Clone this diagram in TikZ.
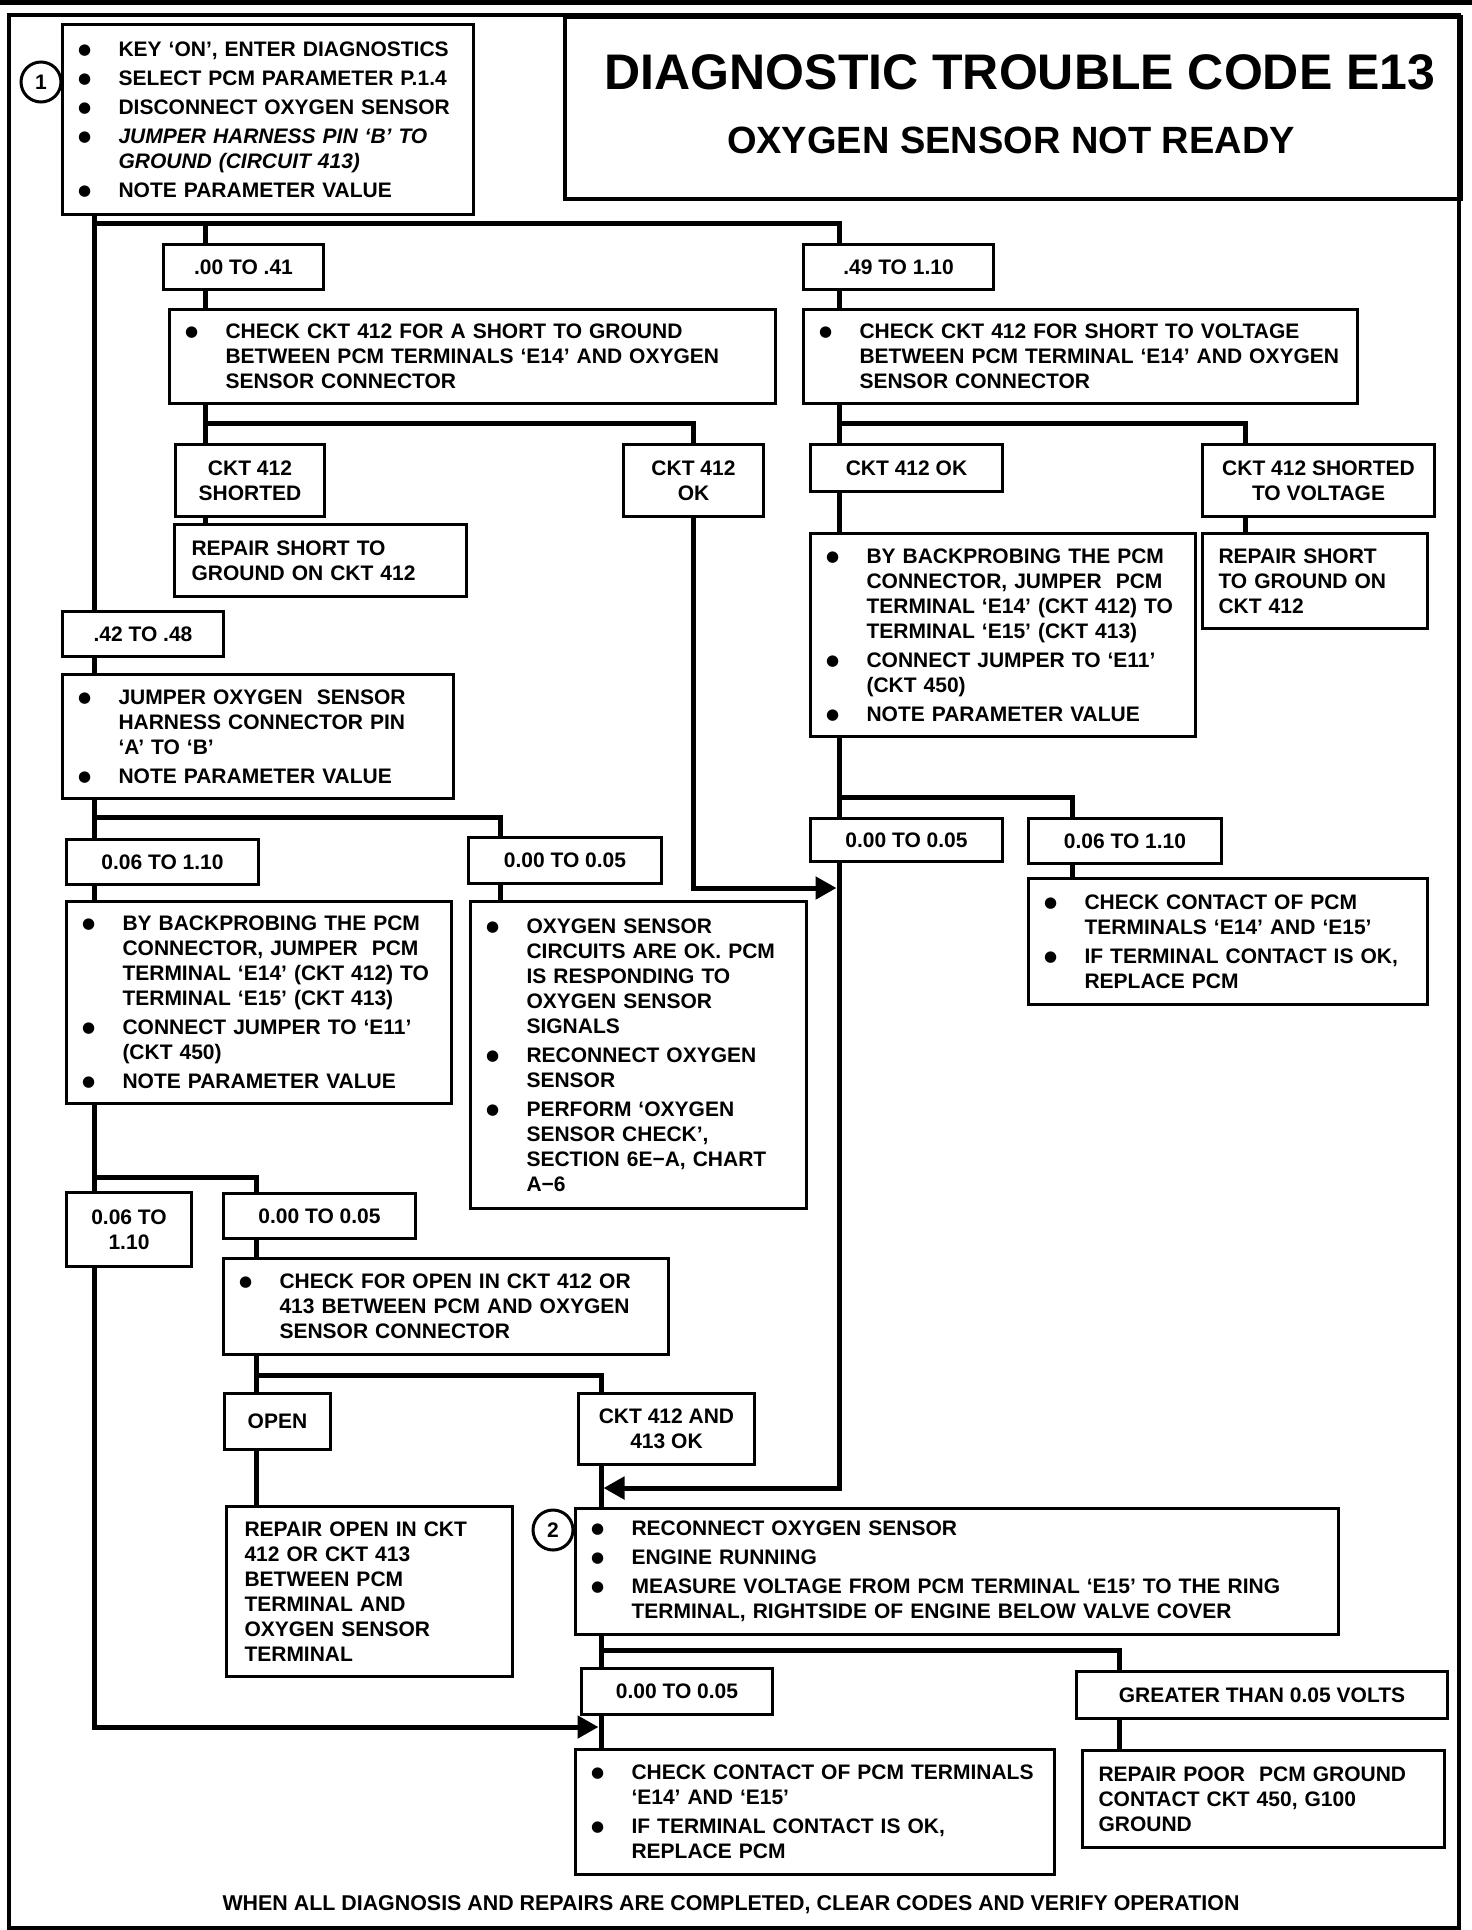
\documentclass[tikz,border=0pt]{standalone}
\usepackage{fontspec}
\setmainfont{Liberation Sans}
\newfontfamily\dejavu{DejaVu Sans}
\usetikzlibrary{arrows.meta}
\newcommand\bdot{\raisebox{2.2pt}{\dejavu\fontsize{15}{15}\selectfont ●}}
\newcommand\BL[1]{\mbox{\makebox[39pt][l]{\hspace*{-1.5pt}\bdot}#1}}
\newcommand\CL[1]{\mbox{\hspace*{39pt}#1}}
\newcommand\PL[1]{\mbox{#1}}
\begin{document}
\begin{tikzpicture}[x=1pt,y=-1pt,
  font=\fontsize{21}{25}\selectfont\bfseries,
  tb/.style={draw, line width=3pt, anchor=north west, inner xsep=17pt, inner ysep=0pt, align=left},
  lb/.style={draw, line width=3pt, anchor=north west, inner sep=0pt, align=center},
  conn/.style={line width=5pt},
  arr/.style={line width=5pt, -{Triangle[length=21pt,width=22pt]}, shorten >=2.5pt}]
\useasboundingbox (0,0) rectangle (1472,1930);
% page frame
\fill (0,0) rectangle (1472,5);
\draw[line width=3.5pt] (9,15) rectangle (1459,1928);
% title
\node[draw, line width=3.5pt, anchor=north west, minimum width=896pt, minimum height=182pt, inner sep=0pt] (tbox) at (563,15) {};
\node (title) at (1020,72) {\fontsize{50}{50}\selectfont DIAGNOSTIC TROUBLE CODE E13};
\node (sub) at (1011,140) {\fontsize{38}{38}\selectfont OXYGEN SENSOR NOT READY};
% step 1
\node[draw, circle, line width=3pt, minimum size=40pt, inner sep=0pt] (n1) at (41,82) {1};
\node[tb, text width=377pt, minimum height=190pt] (b1) at (61,23) {\BL{KEY `ON', ENTER DIAGNOSTICS}\\[4pt]\BL{SELECT PCM PARAMETER P.1.4}\\[4pt]\BL{DISCONNECT OXYGEN SENSOR}\\[4pt]\BL{\itshape JUMPER HARNESS PIN `B' TO}\\\CL{\itshape GROUND (CIRCUIT 413)}\\[4pt]\BL{NOTE PARAMETER VALUE}};
% first level
\node[lb, minimum width=160pt, minimum height=45pt] (b00) at (162,243) {.00 TO .41};
\node[lb, minimum width=190pt, minimum height=45pt] (b49) at (802,243) {.49 TO 1.10};
\node[tb, text width=572pt, minimum height=94pt] (c1) at (168,308) {\BL{CHECK CKT 412 FOR A SHORT TO GROUND}\\\CL{BETWEEN PCM TERMINALS `E14' AND OXYGEN}\\\CL{SENSOR CONNECTOR}};
\node[tb, text width=520pt, minimum height=94pt] (c2) at (802,308) {\BL{CHECK CKT 412 FOR SHORT TO VOLTAGE}\\\CL{BETWEEN PCM TERMINAL `E14' AND OXYGEN}\\\CL{SENSOR CONNECTOR}};
\node[lb, minimum width=149pt, minimum height=72pt] (sh1) at (174,443) {CKT 412\\SHORTED};
\node[lb, minimum width=140pt, minimum height=72pt] (ok1) at (622,443) {CKT 412\\OK};
\node[tb, text width=258pt, minimum height=72pt] (rs1) at (173,523) {\PL{REPAIR SHORT TO}\\\PL{GROUND ON CKT 412}};
\node[lb, minimum width=192pt, minimum height=47pt] (ok2) at (809,443) {CKT 412 OK};
\node[lb, minimum width=232pt, minimum height=72pt] (sv) at (1201,443) {CKT 412 SHORTED\\TO VOLTAGE};
\node[tb, inner xsep=16pt, text width=193pt, minimum height=95pt] (rs2) at (1201,532) {\PL{REPAIR SHORT}\\\PL{TO GROUND ON}\\\PL{CKT 412}};
\node[tb, text width=351pt, minimum height=203pt] (bp2) at (809,532) {\BL{BY BACKPROBING THE PCM}\\\CL{CONNECTOR, JUMPER \ PCM}\\\CL{TERMINAL `E14' (CKT 412) TO}\\\CL{TERMINAL `E15' (CKT 413)}\\[4pt]\BL{CONNECT JUMPER TO `E11'}\\\CL{(CKT 450)}\\[4pt]\BL{NOTE PARAMETER VALUE}};
\node[lb, minimum width=192pt, minimum height=43pt] (r000) at (809,817) {0.00 TO 0.05};
\node[lb, minimum width=193pt, minimum height=45pt] (r006) at (1027,817) {0.06 TO 1.10};
\node[tb, text width=365pt, minimum height=126pt] (cc2) at (1027,877) {\BL{CHECK CONTACT OF PCM}\\\CL{TERMINALS `E14' AND `E15'}\\[4pt]\BL{IF TERMINAL CONTACT IS OK,}\\\CL{REPLACE PCM}};
% left column
\node[lb, minimum width=161pt, minimum height=45pt] (b42) at (61,610) {.42 TO .48};
\node[tb, text width=357pt, minimum height=124pt] (jb) at (61,673) {\BL{JUMPER OXYGEN \ SENSOR}\\\CL{HARNESS CONNECTOR PIN}\\\CL{`A' TO `B'}\\[4pt]\BL{NOTE PARAMETER VALUE}};
\node[lb, minimum width=192pt, minimum height=45pt] (l006) at (65,838) {0.06 TO 1.10};
\node[lb, minimum width=193pt, minimum height=46pt] (m000) at (467,836) {0.00 TO 0.05};
\node[tb, text width=351pt, minimum height=202pt] (bp1) at (65,900) {\BL{BY BACKPROBING THE PCM}\\\CL{CONNECTOR, JUMPER \ PCM}\\\CL{TERMINAL `E14' (CKT 412) TO}\\\CL{TERMINAL `E15' (CKT 413)}\\[4pt]\BL{CONNECT JUMPER TO `E11'}\\\CL{(CKT 450)}\\[4pt]\BL{NOTE PARAMETER VALUE}};
\node[tb, text width=302pt, minimum height=307pt] (ox) at (469,900) {\BL{OXYGEN SENSOR}\\\CL{CIRCUITS ARE OK. PCM}\\\CL{IS RESPONDING TO}\\\CL{OXYGEN SENSOR}\\\CL{SIGNALS}\\[4pt]\BL{RECONNECT OXYGEN}\\\CL{SENSOR}\\[4pt]\BL{PERFORM `OXYGEN}\\\CL{SENSOR CHECK',}\\\CL{SECTION 6E−A, CHART}\\\CL{A−6}};
\node[lb, minimum width=125pt, minimum height=74pt] (l006b) at (65,1191) {0.06 TO\\1.10};
\node[lb, minimum width=192pt, minimum height=45pt] (mm000) at (222,1192) {0.00 TO 0.05};
\node[tb, text width=411pt, minimum height=96pt] (co) at (222,1257) {\BL{CHECK FOR OPEN IN CKT 412 OR}\\\CL{413 BETWEEN PCM AND OXYGEN}\\\CL{SENSOR CONNECTOR}};
\node[lb, minimum width=106pt, minimum height=56pt] (open) at (223,1392) {OPEN};
\node[lb, minimum width=176pt, minimum height=71pt] (k413) at (577,1392) {CKT 412 AND\\413 OK};
\node[tb, inner xsep=18pt, text width=250pt, minimum height=170pt] (ro) at (225,1505) {\PL{REPAIR OPEN IN CKT}\\\PL{412 OR CKT 413}\\\PL{BETWEEN PCM}\\\PL{TERMINAL AND}\\\PL{OXYGEN SENSOR}\\\PL{TERMINAL}};
% step 2
\node[draw, circle, line width=3pt, minimum size=40pt, inner sep=0pt] (n2) at (553,1530) {2};
\node[tb, text width=729pt, minimum height=126pt] (s2) at (574,1507) {\BL{RECONNECT OXYGEN SENSOR}\\[4pt]\BL{ENGINE RUNNING}\\[4pt]\BL{MEASURE VOLTAGE FROM PCM TERMINAL `E15' TO THE RING}\\\CL{TERMINAL, RIGHTSIDE OF ENGINE BELOW VALVE COVER}};
\node[lb, minimum width=191pt, minimum height=46pt] (b000) at (580,1667) {0.00 TO 0.05};
\node[lb, minimum width=371pt, minimum height=47pt] (gt) at (1075,1670) {GREATER THAN 0.05 VOLTS};
\node[tb, text width=445pt, minimum height=125pt] (cc3) at (574,1748) {\BL{CHECK CONTACT OF PCM TERMINALS}\\\CL{`E14' AND `E15'}\\[4pt]\BL{IF TERMINAL CONTACT IS OK,}\\\CL{REPLACE PCM}};
\node[tb, inner xsep=16pt, text width=330pt, minimum height=97pt] (rp) at (1081,1749) {\PL{REPAIR POOR \ PCM GROUND}\\\PL{CONTACT CKT 450, G100}\\\PL{GROUND}};
\node (foot) at (731,1905) {\fontsize{21.4}{25}\selectfont WHEN ALL DIAGNOSIS AND REPAIRS ARE COMPLETED, CLEAR CODES AND VERIFY OPERATION};
% helper coordinates
\coordinate (xL) at (94,0);
\coordinate (xR) at (839,0);
\coordinate (x00) at (205,0);
\coordinate (xV) at (1245,0);
\coordinate (x72) at (1072,0);
\coordinate (x50) at (500,0);
\coordinate (x256) at (256,0);
\coordinate (xK) at (601,0);
\coordinate (x1119) at (1119,0);
\coordinate (yT) at (0,223);
\coordinate (y423) at (0,423);
\coordinate (y797) at (0,797);
\coordinate (y817) at (0,817);
\coordinate (y1177) at (0,1177);
\coordinate (y1375) at (0,1375);
\coordinate (y1650) at (0,1650);
\coordinate (pA) at (839,888);
\coordinate (pB) at (601,1488);
\coordinate (pC) at (601,1727);
% connectors
\draw[conn] (b1.south -| xL) -- (b42.north -| xL);
\draw[conn] (xL |- yT) -| (b49.north -| xR);
\draw[conn] (x00 |- yT) -- (b00.north -| x00);
\draw[conn] (b00.south -| x00) -- (c1.north -| x00);
\draw[conn] (b49.south -| xR) -- (c2.north -| xR);
\draw[conn] (c1.south -| x00) -- (sh1.north -| x00);
\draw[conn] (x00 |- y423) -| (ok1.north);
\draw[conn] (sh1.south -| x00) -- (rs1.north -| x00);
\draw[conn] (c2.south -| xR) -- (ok2.north -| xR);
\draw[conn] (xR |- y423) -| (sv.north -| xV);
\draw[conn] (sv.south -| xV) -- (rs2.north -| xV);
\draw[conn] (ok2.south -| xR) -- (bp2.north -| xR);
\draw[conn] (bp2.south -| xR) -- (r000.north -| xR);
\draw[conn] (xR |- y797) -| (r006.north -| x72);
\draw[conn] (r006.south -| x72) -- (cc2.north -| x72);
\draw[arr] (ok1.south) |- (pA);
\draw[arr] (r000.south -| xR) |- (pB);
\draw[conn] (b42.south -| xL) -- (jb.north -| xL);
\draw[conn] (jb.south -| xL) -- (l006.north -| xL);
\draw[conn] (xL |- y817) -| (m000.north -| x50);
\draw[conn] (m000.south -| x50) -- (ox.north -| x50);
\draw[conn] (l006.south -| xL) -- (bp1.north -| xL);
\draw[conn] (bp1.south -| xL) -- (l006b.north -| xL);
\draw[conn] (xL |- y1177) -| (mm000.north -| x256);
\draw[arr] (l006b.south -| xL) |- (pC);
\draw[conn] (mm000.south -| x256) -- (co.north -| x256);
\draw[conn] (co.south -| x256) -- (open.north -| x256);
\draw[conn] (x256 |- y1375) -| (k413.north -| xK);
\draw[conn] (open.south -| x256) -- (ro.north -| x256);
\draw[conn] (k413.south -| xK) -- (s2.north -| xK);
\draw[conn] (s2.south -| xK) -- (b000.north -| xK);
\draw[conn] (xK |- y1650) -| (gt.north -| x1119);
\draw[conn] (b000.south -| xK) -- (cc3.north -| xK);
\draw[conn] (gt.south -| x1119) -- (rp.north -| x1119);
\end{tikzpicture}
\end{document}
